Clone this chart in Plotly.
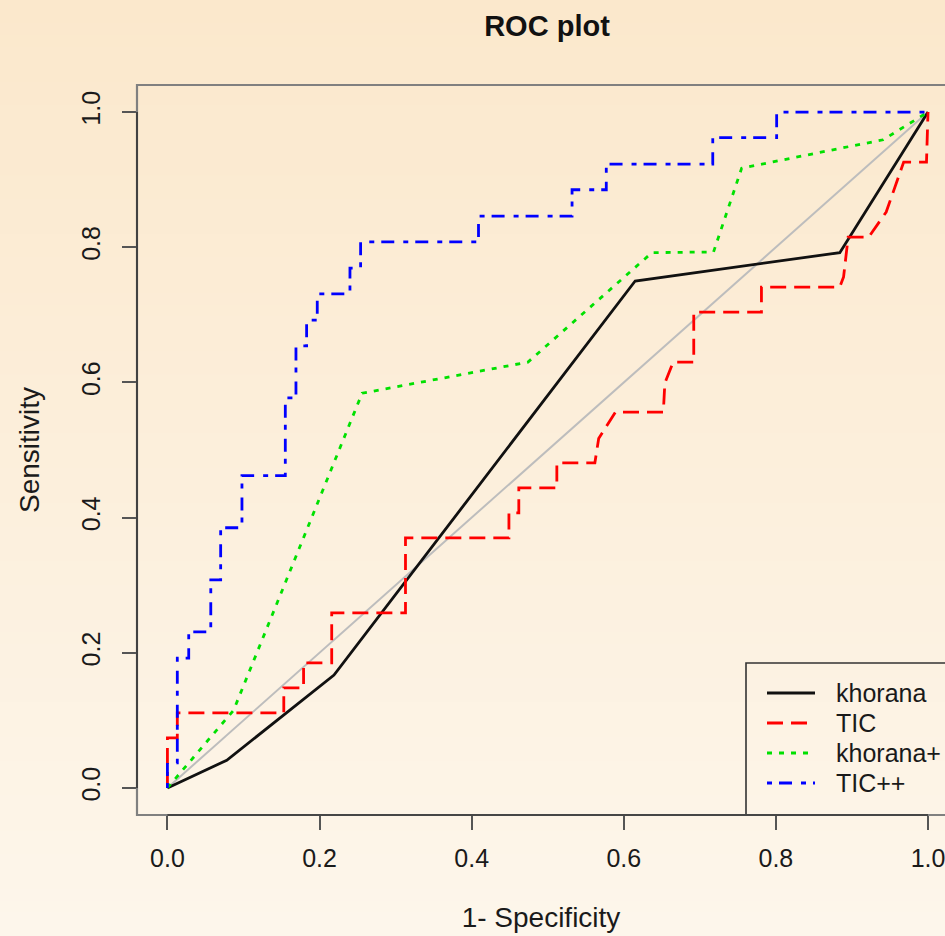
import plotly.graph_objects as go

# ---------------- data ----------------
khorana_fpr = [0.0, 0.078, 0.219, 0.615, 0.884, 1.0]
khorana_tpr = [0.0, 0.041, 0.167, 0.750, 0.792, 1.0]

tic_fpr = [0.0, 0.0, 0.013, 0.013, 0.153, 0.153, 0.179, 0.179, 0.216, 0.216,
           0.313, 0.313, 0.449, 0.449, 0.462, 0.462, 0.512, 0.512, 0.562, 0.567,
           0.589, 0.652, 0.654, 0.665, 0.692, 0.692, 0.781, 0.781, 0.884, 0.889,
           0.895, 0.922, 0.945, 0.968, 0.998, 1.0]
tic_tpr = [0.0, 0.074, 0.074, 0.111, 0.111, 0.148, 0.148, 0.185, 0.185, 0.259,
           0.259, 0.370, 0.370, 0.407, 0.407, 0.444, 0.444, 0.481, 0.481, 0.517,
           0.556, 0.556, 0.599, 0.630, 0.630, 0.704, 0.704, 0.741, 0.741, 0.756,
           0.815, 0.815, 0.852, 0.926, 0.926, 1.0]

khoranap_fpr = [0.0, 0.087, 0.256, 0.474, 0.637, 0.718, 0.755, 0.941, 1.0]
khoranap_tpr = [0.0, 0.115, 0.584, 0.630, 0.792, 0.793, 0.917, 0.959, 1.0]

ticpp_fpr = [0.0, 0.0, 0.013, 0.028, 0.057, 0.070, 0.098, 0.155, 0.169, 0.183,
             0.197, 0.240, 0.254, 0.409, 0.532, 0.577, 0.717, 0.801, 1.0]
ticpp_tpr = [0.0, 0.037, 0.192, 0.231, 0.308, 0.385, 0.462, 0.577, 0.654, 0.692,
             0.731, 0.769, 0.808, 0.846, 0.885, 0.923, 0.962, 1.0, 1.0]

ref_line = [0.0, 1.0]

tick_vals = [0.0, 0.2, 0.4, 0.6, 0.8, 1.0]
tick_text = ["0.0", "0.2", "0.4", "0.6", "0.8", "1.0"]

series_names = ["khorana", "TIC", "khorana+", "TIC++"]
series_colors = ["#111111", "#FF0000", "#00E000", "#0000FF"]
series_dash = ["solid", "16px,8px", "5px,7px", "5px,7px,13px,9px"]

# ---------------- figure ----------------
W, H = 945, 936
ML, MR, MT, MB = 137, 0, 85, 121
FONT = "Liberation Sans, Arial, Helvetica, sans-serif"
pw = W - ML - MR
ph = H - MT - MB


def px_x(p):
    return (p - ML) / pw


def px_y(p):
    return (H - MB - p) / ph


fig = go.Figure()

fig.add_trace(go.Scatter(x=ref_line, y=ref_line, mode="lines",
                         line=dict(color="#BDBDBD", width=2),
                         showlegend=False, hoverinfo="skip"))
all_x = [khorana_fpr, tic_fpr, khoranap_fpr, ticpp_fpr]
all_y = [khorana_tpr, tic_tpr, khoranap_tpr, ticpp_tpr]
for i in range(4):
    fig.add_trace(go.Scatter(x=all_x[i], y=all_y[i], mode="lines",
                             name=series_names[i], showlegend=False,
                             line_shape="hv" if i == 3 else "linear",
                             line=dict(color=series_colors[i], width=2.8,
                                       dash=series_dash[i])))

# background gradient built from horizontal strips
shapes = []
top_rgb = (251, 232, 204)
bot_rgb = (253, 246, 235)
n = 80
for i in range(n):
    t = i / (n - 1)
    c = tuple(round(top_rgb[k] + (bot_rgb[k] - top_rgb[k]) * t) for k in range(3))
    shapes.append(dict(type="rect", xref="paper", yref="paper", layer="below",
                       x0=px_x(-5), x1=1.05,
                       y0=px_y(H * (i + 1) / n + 1), y1=px_y(H * i / n),
                       line=dict(width=0), fillcolor="rgb(%d,%d,%d)" % c))

# legend box (left and top edges visible; bottom lies on the plot box)
shapes.append(dict(type="rect", xref="paper", yref="paper", x0=px_x(746), x1=1.3,
                   y0=0, y1=px_y(663), line=dict(color="#333333", width=1.6)))
# plot box (right side falls outside the page)
shapes.append(dict(type="rect", xref="paper", yref="paper", x0=0, x1=1.2, y0=0, y1=1,
                   line=dict(color="#808080", width=2.2)))
# axis lines spanning first to last tick
shapes.append(dict(type="line", xref="x", yref="paper", x0=0, x1=1, y0=0, y1=0,
                   line=dict(color="#333333", width=1.6)))
shapes.append(dict(type="line", xref="paper", yref="y", x0=0, x1=0, y0=0, y1=1,
                   line=dict(color="#333333", width=1.6)))

annotations = []
row_y = [693, 723, 753, 783]
for i in range(4):
    shapes.append(dict(type="line", xref="paper", yref="paper",
                       x0=px_x(767), x1=px_x(815), y0=px_y(row_y[i]), y1=px_y(row_y[i]),
                       line=dict(color=series_colors[i], width=2.8, dash=series_dash[i])))
    annotations.append(dict(text=series_names[i], xref="paper", yref="paper",
                            x=px_x(834), y=px_y(row_y[i]), xanchor="left",
                            yanchor="middle", showarrow=False,
                            font=dict(family=FONT, size=25, color="#1a1a1a")))

fig.update_layout(
    width=W, height=H,
    margin=dict(l=ML, r=MR, t=MT, b=MB, pad=0),
    paper_bgcolor="rgb(252,240,222)",
    plot_bgcolor="rgba(0,0,0,0)",
    font=dict(family=FONT, size=25, color="#1a1a1a"),
    title=dict(text="<b>ROC plot</b>", xref="container", yref="container",
               x=547 / W, xanchor="center", y=1 - 26 / H, yanchor="middle",
               font=dict(family=FONT, size=29, color="#111111")),
    shapes=shapes,
    annotations=annotations,
    showlegend=False,
    xaxis=dict(range=[-0.04, (W - 167) / 761], showgrid=False, zeroline=False,
               showline=False, ticks="outside", ticklen=14, tickwidth=1.6,
               tickcolor="#555555", tickvals=tick_vals, ticktext=tick_text,
               ticklabelstandoff=7, ticklabeloverflow="allow",
               title=dict(text="1- Specificity", standoff=36,
                          font=dict(family=FONT, size=28))),
    yaxis=dict(range=[-0.04, 1.04], showgrid=False, zeroline=False,
               showline=False, ticks="outside", ticklen=14, tickwidth=1.6,
               tickcolor="#555555", tickvals=tick_vals, ticktext=tick_text,
               tickangle=-90, ticklabelstandoff=12,
               title=dict(text="Sensitivity", standoff=29,
                          font=dict(family=FONT, size=28))),
)

fig.write_html("out.html",
               config={"displayModeBar": False},
               post_script="document.body.style.margin='0';"
                           "document.body.style.padding='0';"
                           "document.body.style.overflow='hidden';")
